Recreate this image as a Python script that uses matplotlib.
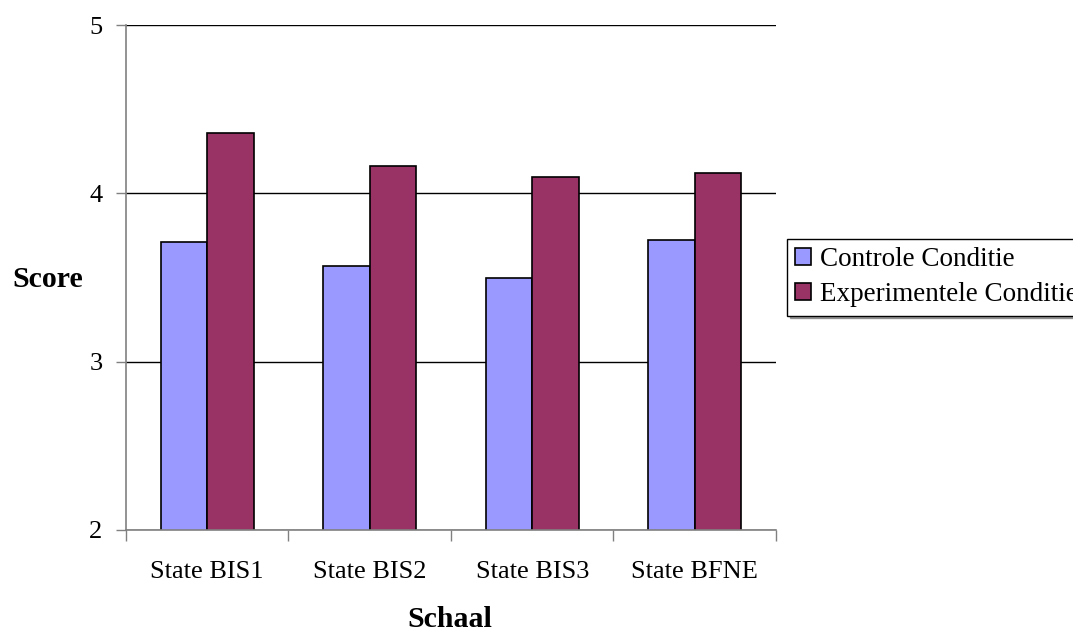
import numpy as np
import matplotlib.pyplot as plt
from matplotlib.ticker import FixedLocator

plt.rcParams['font.family'] = ['Liberation Serif', 'DejaVu Serif']

schalen = ['State BIS1', 'State BIS2', 'State BIS3', 'State BFNE']
controle = [3.71, 3.57, 3.50, 3.72]
experimenteel = [4.36, 4.16, 4.10, 4.12]
reeksen = ['Controle Conditie', 'Experimentele Conditie']

fig = plt.figure(figsize=(10.73, 6.3), dpi=100)
ax = fig.add_axes([126 / 1073, 100 / 630, 650 / 1073, 505 / 630])

x = np.arange(len(schalen))
w = 1 / 3.5  # gap width 150%
ax.bar(x - w / 2, controle, w, color='#9999FF', edgecolor='black',
       linewidth=1.2, label=reeksen[0], zorder=3)
ax.bar(x + w / 2, experimenteel, w, color='#993366', edgecolor='black',
       linewidth=1.2, label=reeksen[1], zorder=3)

ax.set_xlim(-0.5, len(schalen) - 0.5)
ax.set_ylim(2, 5)
ax.set_yticks([2, 3, 4, 5])
ax.set_xticks(x)
ax.set_xticklabels(schalen)
ax.xaxis.set_minor_locator(FixedLocator(np.arange(-0.5, len(schalen), 1.0)))
ax.tick_params(axis='x', which='major', length=0, pad=22, labelsize=19)
ax.tick_params(axis='x', which='minor', length=8, width=1, color='#808080')
ax.tick_params(axis='y', length=7, width=1, color='#808080', pad=10, labelsize=19)

ax.yaxis.grid(True, color='black', linewidth=1, zorder=0)
for side in ['top', 'right']:
    ax.spines[side].set_visible(False)
for side in ['left', 'bottom']:
    ax.spines[side].set_color('#808080')
    ax.spines[side].set_linewidth(1.2)
ax.spines['bottom'].set_zorder(4)

fig.text(12 / 1073, 1 - 287 / 630, 'Score', fontsize=21.5, fontweight='bold',
         ha='left', va='baseline')
fig.text(450 / 1073, 1 - 627 / 630, 'Schaal', fontsize=21.5, fontweight='bold',
         ha='center', va='baseline')

leg = fig.legend(loc='upper left', bbox_to_anchor=(787 / 1073, 1 - 239 / 630),
                 fontsize=19.5, frameon=True, fancybox=False, shadow=True,
                 handlelength=0.6, handleheight=0.6, handletextpad=0.3,
                 borderpad=0.3, labelspacing=0.38, borderaxespad=0)
leg.get_frame().set_edgecolor('black')
leg.get_frame().set_linewidth(1)

fig.savefig('out.png', dpi=100)
